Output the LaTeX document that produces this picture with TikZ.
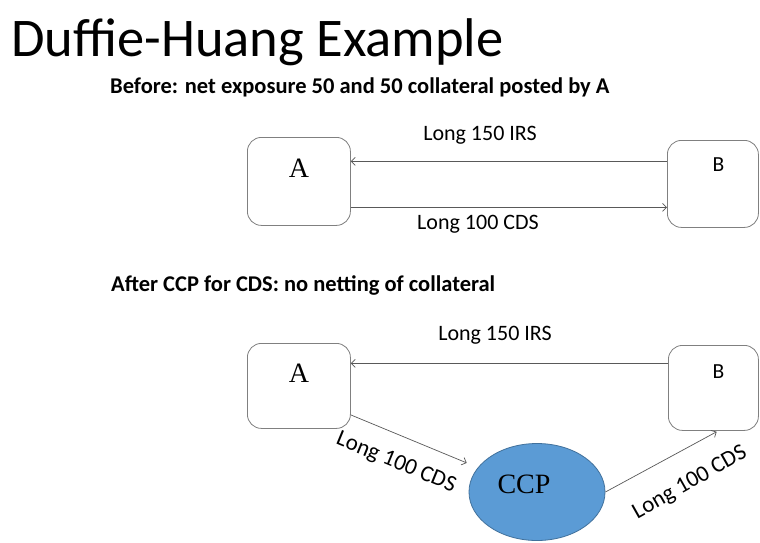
\documentclass[tikz,border=0pt]{standalone}
\usepackage{fontspec}
\setmainfont{Carlito}
\newfontfamily\serifA{Liberation Serif}
\usetikzlibrary{arrows.meta,shapes.geometric,calc}
\definecolor{boxgray}{HTML}{808080}
\definecolor{linegray}{HTML}{595959}
\definecolor{ccpfill}{HTML}{5B9BD5}
\definecolor{ccpline}{HTML}{41719C}
\begin{document}
\begin{tikzpicture}[x=1pt,y=-1pt,
  party/.style={draw=boxgray,line width=0.8pt,rounded corners=14pt,inner sep=0pt,anchor=north west},
  arr/.style={draw=linegray,line width=0.7pt,-{Straight Barb[length=4pt,width=8pt]}},
  lbl/.style={font=\fontsize{22}{26}\selectfont,inner sep=0pt},
  rlbl/.style={font=\fontsize{23}{27}\selectfont,inner sep=0pt},
  sub/.style={font=\fontsize{22.5}{26}\selectfont\bfseries,inner sep=0pt,anchor=base west},
  sername/.style={font=\serifA\fontsize{28}{32}\selectfont,inner sep=0pt,anchor=base},
  sansname/.style={font=\fontsize{21.5}{25}\selectfont,inner sep=0pt,anchor=base}]
\useasboundingbox[fill=white] (0,0) rectangle (760,542);

% title and subtitles
\node[anchor=base west,font=\fontsize{54.5}{60}\selectfont,inner sep=0pt] (title) at (11,56) {Duffie-Huang Example};
\node[sub] (s1) at (110,93.5) {Before: net exposure 50 and 50 collateral posted by A};
\node[sub] (s2) at (111,291) {After CCP for CDS: no netting of collateral};

% top diagram
\node[party,minimum width=103pt,minimum height=88pt] (A1) at (247,137) {};
\node[party,minimum width=91pt,minimum height=87pt] (B1) at (667,140) {};
\node[sername] (tA1) at ([yshift=4pt]A1.center) {A};
\node[sansname] (tB1) at ([xshift=5.5pt,yshift=12.5pt]B1.center) {B};
\coordinate (irsA1) at ([yshift=20pt]A1.east);
\coordinate (cdsA1) at ([yshift=-26pt]A1.east);
\draw[arr] (irsA1 -| B1.west) -- (irsA1);
\draw[arr] (cdsA1) -- (cdsA1 -| B1.west);
\node[lbl,anchor=base] (l1) at (480,140) {Long 150 IRS};
\node[lbl,anchor=base] (l2) at (478,229) {Long 100 CDS};

% bottom diagram
\node[party,minimum width=103pt,minimum height=85pt] (A2) at (247,343) {};
\node[party,minimum width=90pt,minimum height=85pt] (B2) at (668,345) {};
\node[sername] (tA2) at ([yshift=3pt]A2.center) {A};
\node[sansname] (tB2) at ([xshift=5pt,yshift=9.5pt]B2.center) {B};
\node[ellipse,draw=ccpline,fill=ccpfill,line width=0.8pt,minimum width=136pt,minimum height=97pt,inner sep=0pt] (CCP) at (537,492) {};
\node[sername] (tCCP) at ([xshift=-13pt,yshift=-1pt]CCP.center) {CCP};
\coordinate (irsA2) at ([yshift=22.5pt]A2.east);
\coordinate (cdsA2) at ([yshift=-29pt]A2.east);
\draw[arr] (irsA2 -| B2.west) -- (irsA2);
\draw[arr,shorten >=12pt] (cdsA2) -- (CCP);
\draw[arr,shorten >=2pt] (CCP.east) -- ([xshift=5pt]B2.south);
\node[lbl,anchor=base] (l3) at (495,340) {Long 150 IRS};
\node[rlbl,rotate=-22.5] (l4) at (396,463) {Long 100 CDS};
\node[rlbl,rotate=29.5] (l5) at (690,483) {Long 100 CDS};
\end{tikzpicture}
\end{document}
